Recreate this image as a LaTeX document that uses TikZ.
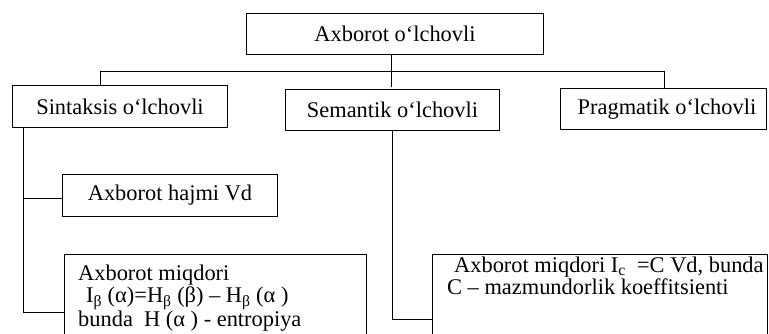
\documentclass[tikz,border=0pt]{standalone}
\usepackage{fontspec}
\setmainfont{Liberation Serif}
\begin{document}
\begin{tikzpicture}[x=1pt,y=-1pt,
  box/.style={draw, line width=1pt, rectangle, inner sep=0pt, anchor=north west,
    font=\fontsize{22.4}{18.4}\selectfont},
  lbl/.style={inner sep=0pt, anchor=north west, align=left,
    font=\fontsize{22.4}{18.4}\selectfont},
  wire/.style={line width=1pt}]
\useasboundingbox (0,0) rectangle (769,334);

% boxes
\node[box, minimum width=297pt, minimum height=41pt] (top)  at (246,13)  {Axborot o‘lchovli};
\node[box, minimum width=215pt, minimum height=42pt] (sint) at (12,85)   {Sintaksis o‘lchovli};
\node[box, minimum width=214pt, minimum height=41pt] (sem)  at (285,89)  {Semantik o‘lchovli};
\node[box, minimum width=206pt, minimum height=41pt] (prag) at (560,88)  {\hspace{7pt}Pragmatik o‘lchovli};
\node[box, minimum width=215pt, minimum height=42pt] (vd)   at (62,174)  {Axborot hajmi Vd};
\node[box, minimum width=302pt, minimum height=100pt] (miqA) at (64,254)  {};
\node[box, minimum width=335pt, minimum height=100pt] (miqC) at (432,254) {};

% texts of the two lower boxes
\node[lbl] (miqAtxt) at (78,265)
  {Axborot miqdori\\
   \hspace{8pt}I\textsubscript{β} (α)=H\textsubscript{β} (β) – H\textsubscript{β} (α )\\
   bunda\ \ H (α ) - entropiya};
\node[lbl] (miqCtxt) at (447,257)
  {\hspace{7pt}Axborot miqdori I\textsubscript{c}\ \ =C Vd, bunda\\
   C – mazmundorlik koeffitsienti};

% connectors
\coordinate (busL) at (100,72);
\coordinate (busR) at (664,72);
\coordinate (semX) at (391,0);
\draw[wire] (top.south -| semX) -- ([yshift=2pt]sem.north -| semX);
\draw[wire] (sint.north -| busL) -- (busL) -- (busR) -- (prag.north -| busR);

\coordinate (trL)   at (23,313);
\coordinate (vdJ)   at (23,199);
\coordinate (miqAJ) at (23,312);
\draw[wire] (sint.south -| trL) -- (trL);
\draw[wire] (vdJ) -- (vdJ -| vd.west);
\draw[wire] (miqAJ) -- (miqAJ -| miqA.west);

\coordinate (semJ) at (392,319);
\draw[wire] (sem.south -| semJ) -- (semJ) -- (semJ -| miqC.west);
\end{tikzpicture}
\end{document}
